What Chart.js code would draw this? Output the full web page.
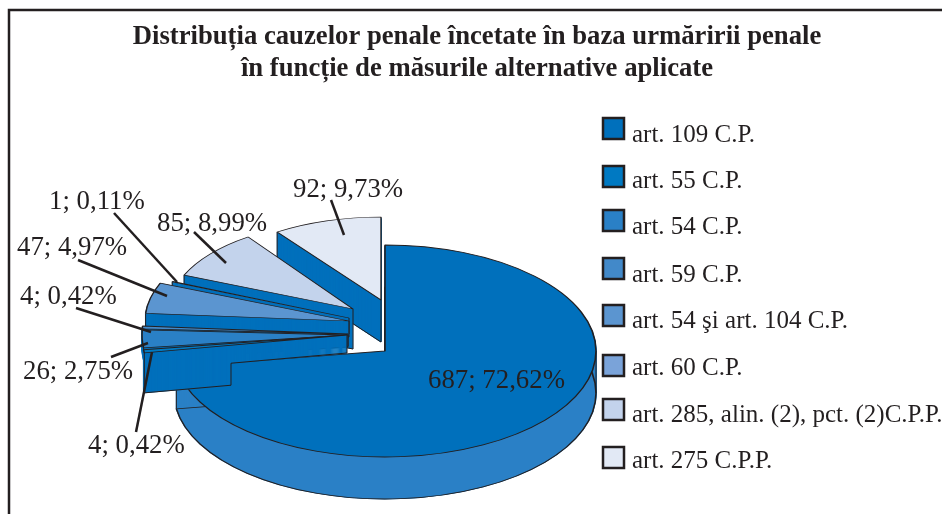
<!DOCTYPE html>
<html lang="ro">
<head>
<meta charset="utf-8">
<title>Distribuția cauzelor penale</title>
<script src="https://cdn.jsdelivr.net/npm/chart.js@4"></script>
<style>
    html, body { margin: 0; background: #fff; overflow: hidden; }
    canvas { display: block; }
</style>
</head>
<body>
<canvas id="chart" width="942" height="514"></canvas>
<script>
// Data
const titleLines = [
    'Distribuția cauzelor penale încetate în baza urmăririi penale',
    'în funcție de măsurile alternative aplicate'
];
const categories = [
    'art. 109 C.P.', 'art. 55 C.P.', 'art. 54 C.P.', 'art. 59 C.P.',
    'art. 54 şi art. 104 C.P.', 'art. 60 C.P.', 'art. 285, alin. (2), pct. (2)C.P.P.', 'art. 275 C.P.P.'
];
const counts = [687, 4, 26, 4, 47, 1, 85, 92];
const percents = ['72,62', '0,42', '2,75', '0,42', '4,97', '0,11', '8,99', '9,73'];

// Colors
const ink = '#231f20';
const topColors = ['#0070bc', '#0079c2', '#2a80c6', '#4289c9', '#5b95d0', '#7aa3d9', '#c3d3ec', '#e2e9f5'];
const wallColors = ['#2a80c6', '#0070bc', '#0070bc', '#0070bc', '#0070bc', '#0070bc', '#0070bc', '#0070bc'];

// The library lays the pie out as a circle of this radius, the plugin tilts it
const pieRadius = 200;

// Where every wedge ends up after the tilt and the explosion
const poses = [
    { x: 385, y: 351, rx: 211, ry: 106, depth: 42 },
    { x: 347, y: 335, rx: 205, ry: 120, depth: 40, step: { x: 231, depth: 18 } },
    { x: 348, y: 335, rx: 206, ry: 105, depth: 12 },
    { x: 348, y: 334, rx: 206, ry: 105, depth: 12 },
    { x: 349, y: 321, rx: 204, ry: 100, depth: 16 },
    { x: 349, y: 318, rx: 191, ry: 95, depth: 16 },
    { x: 353, y: 309, rx: 183, ry: 88, depth: 40 },
    { x: 381, y: 300, rx: 181, ry: 83, depth: 42 }
];
// Back to front
const paintOrder = [0, 7, 6, 5, 4, 3, 2, 1];

// Text spot and leader line of every data label
const labelSpots = [
    { x: 428, y: 388 },
    { x: 88, y: 453, line: [136, 432, 152, 352] },
    { x: 23, y: 379, line: [111, 357, 148, 343] },
    { x: 20, y: 304, line: [76, 308, 151, 332] },
    { x: 17, y: 255, line: [78, 260, 167, 296] },
    { x: 49, y: 209, line: [114, 213, 177, 282] },
    { x: 157, y: 231, line: [194, 232, 226, 263] },
    { x: 293, y: 197, line: [331, 200, 344, 235] }
];

// Legend rows: top of the box and baseline of the text
const legendBoxTops = [117, 165, 209, 257, 304, 354, 398, 446];
const legendBaselines = [142, 188, 234, 282, 328, 375, 422, 468];

const poseEdge = (pose, angle) => ({
    x: pose.x + Math.cos(angle) * pose.rx,
    y: pose.y + Math.sin(angle) * pose.ry
});

const drawPosed = (ctx, arc, pose, drop, options) => {
    const base = arc.options;
    arc.options = { ...base, ...options };
    ctx.save();
    ctx.translate(pose.x, pose.y + drop);
    ctx.scale(pose.rx / pieRadius, pose.ry / pieRadius);
    ctx.translate(-arc.x, -arc.y);
    arc.draw(ctx);
    ctx.restore();
    arc.options = base;
};

const verticalEdge = (ctx, x, y, depth) => {
    ctx.beginPath();
    ctx.moveTo(x, y);
    ctx.lineTo(x, y + depth);
    ctx.stroke();
};

const drawWall = (ctx, arc, pose, color, depth) => {
    // Same colored border keeps the very thin wedges from leaving gaps
    for (let d = depth; d > 0; d--) {
        drawPosed(ctx, arc, pose, d, { backgroundColor: color, borderColor: color, borderWidth: 1.5 });
    }
    ctx.strokeStyle = ink;
    ctx.lineWidth = 1;
    const from = poseEdge(pose, arc.startAngle);
    if (arc.startAngle < 0 && arc.endAngle > 0) {
        // The big wedge shows its rim, the exploded ones only their lower edge
        drawPosed(ctx, arc, pose, depth, { backgroundColor: color, borderColor: ink, borderWidth: 1.5 });
        const to = poseEdge(pose, arc.endAngle);
        verticalEdge(ctx, to.x, to.y, depth);
        verticalEdge(ctx, pose.x + pose.rx, pose.y, depth);
    } else {
        ctx.beginPath();
        ctx.moveTo(from.x, from.y + depth);
        ctx.lineTo(pose.x, pose.y + depth);
        ctx.stroke();
        verticalEdge(ctx, pose.x, pose.y, depth);
        verticalEdge(ctx, from.x, from.y, depth);
    }
};

const pie3d = {
    id: 'pie3d',
    beforeDraw(chart) {
        // Frame, open on the right and at the bottom
        const { ctx } = chart;
        ctx.save();
        ctx.strokeStyle = ink;
        ctx.lineWidth = 2.5;
        ctx.beginPath();
        ctx.moveTo(9, 514);
        ctx.lineTo(9, 10);
        ctx.lineTo(942, 10);
        ctx.stroke();
        ctx.restore();
    },
    beforeDatasetDraw(chart) {
        const { ctx } = chart;
        const arcs = chart.getDatasetMeta(0).data;
        paintOrder.forEach((i) => {
            const arc = arcs[i];
            const pose = poses[i];
            if (pose.step) {
                ctx.save();
                ctx.beginPath();
                ctx.rect(0, 0, pose.step.x, 514);
                ctx.clip();
                drawWall(ctx, arc, pose, wallColors[i], pose.depth);
                ctx.restore();
                ctx.save();
                ctx.beginPath();
                ctx.rect(pose.step.x, 0, 942, 514);
                ctx.clip();
                drawWall(ctx, arc, pose, wallColors[i], pose.step.depth);
                ctx.restore();
                // Riser of the step along the lower edge of the wedge
                const from = poseEdge(pose, arc.startAngle);
                const t = (pose.step.x - pose.x) / (from.x - pose.x);
                const y = pose.y + t * (from.y - pose.y);
                verticalEdge(ctx, pose.step.x, y + pose.step.depth, pose.depth - pose.step.depth);
            } else {
                drawWall(ctx, arc, pose, wallColors[i], pose.depth);
            }
            drawPosed(ctx, arc, pose, 0, {});
        });
        return false;
    },
    afterDraw(chart) {
        const { ctx } = chart;
        ctx.save();
        ctx.fillStyle = ink;
        ctx.textBaseline = 'alphabetic';

        // Data labels and their leader lines
        ctx.font = '26.8px "Liberation Serif"';
        ctx.strokeStyle = ink;
        ctx.lineWidth = 2.5;
        labelSpots.forEach((spot, i) => {
            ctx.fillText(`${counts[i]}; ${percents[i]}%`, spot.x, spot.y);
            if (spot.line) {
                ctx.beginPath();
                ctx.moveTo(spot.line[0], spot.line[1]);
                ctx.lineTo(spot.line[2], spot.line[3]);
                ctx.stroke();
            }
        });

        // Legend
        ctx.font = '25px "Liberation Serif"';
        categories.forEach((name, i) => {
            ctx.fillStyle = topColors[i];
            ctx.fillRect(603, legendBoxTops[i] + 1, 21, 21);
            ctx.lineWidth = 2.5;
            ctx.strokeRect(603, legendBoxTops[i] + 1, 21, 21);
            ctx.fillStyle = ink;
            ctx.fillText(name, 632, legendBaselines[i]);
        });
        ctx.restore();
    }
};

new Chart(document.getElementById('chart'), {
    type: 'pie',
    data: {
        labels: categories,
        datasets: [{
            data: counts,
            backgroundColor: topColors,
            borderColor: ink,
            borderWidth: 1.5,
            radius: pieRadius
        }]
    },
    options: {
        responsive: false,
        animation: false,
        radius: pieRadius,
        layout: { padding: { top: 21, left: 12 } },
        plugins: {
            legend: { display: false },
            tooltip: { enabled: false },
            title: {
                display: true,
                text: titleLines,
                color: ink,
                padding: 0,
                font: { family: '"Liberation Serif"', size: 26.7, weight: 'bold', lineHeight: 1.2 }
            }
        }
    },
    plugins: [pie3d]
});
</script>
</body>
</html>
